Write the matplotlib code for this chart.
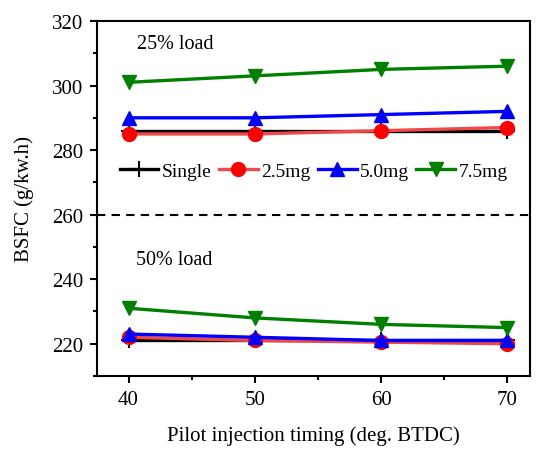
import matplotlib
matplotlib.use("Agg")
import matplotlib.pyplot as plt
from matplotlib.ticker import MultipleLocator

plt.rcParams['font.family'] = ['Liberation Serif', 'DejaVu Serif']

timing = [40, 50, 60, 70]
single_25 = [286, 286, 286, 286]
mg25_25 = [285, 285, 286, 287]
mg50_25 = [290, 290, 291, 292]
mg75_25 = [301, 303, 305, 306]
single_50 = [221, 221, 221, 221]
mg25_50 = [222, 221, 220.5, 220]
mg50_50 = [223, 222, 221, 221]
mg75_50 = [231, 228, 226, 225]
labels = ["Single", "2.5mg", "5.0mg", "7.5mg"]
divider = 260

fig = plt.figure(figsize=(5.39, 4.52), dpi=100)
ax = fig.add_axes([97/539, 1-377/452, (530-97)/539, (377-22)/452])

styles = [
    dict(color='black', marker='+', ms=11, mew=1.5),
    dict(color='#f04848', marker='o', ms=10, mfc='red', mec='red'),
    dict(color='blue', marker='^', ms=10),
    dict(color='green', marker='v', ms=10),
]
lw = 2.4
for data, st, lab in zip([single_25, mg25_25, mg50_25, mg75_25], styles, labels):
    ax.plot(timing, data, lw=lw, label=lab, **st)
for data, st in zip([single_50, mg25_50, mg50_50, mg75_50], styles):
    ax.plot(timing, data, lw=lw, **st)

ax.axhline(divider, color='black', ls=(0, (4, 3)), lw=1.5)

ax.set_xlim(37.5, 71.8)
ax.set_ylim(210, 320)
ax.xaxis.set_major_locator(MultipleLocator(10))
ax.xaxis.set_minor_locator(MultipleLocator(5))
ax.yaxis.set_major_locator(MultipleLocator(20))
ax.yaxis.set_minor_locator(MultipleLocator(10))
ax.tick_params(which='major', direction='out', length=5, width=1.5, labelsize=15, pad=5)
ax.tick_params(which='minor', direction='out', length=3, width=1.5)
for s in ax.spines.values():
    s.set_linewidth(1.5)

ax.set_xlabel("Pilot injection timing (deg. BTDC)", fontsize=15, labelpad=12)
ax.set_ylabel("BSFC (g/kw.h)", fontsize=15, labelpad=13)

ax.text(40.7, 312.9, "25% load", fontsize=14.5, va='center')
ax.text(40.55, 246, "50% load", fontsize=14.5, va='center')

ax.legend(loc='center', bbox_to_anchor=(0.5, 0.578), ncol=4, frameon=False,
          fontsize=14, handlelength=2.0, handletextpad=0.15, columnspacing=0.4)

fig.savefig("out.png", dpi=100)
